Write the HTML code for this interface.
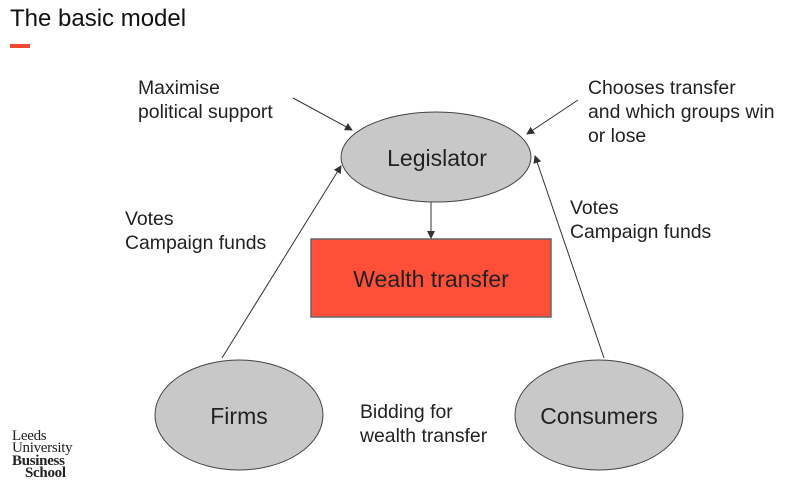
<!DOCTYPE html>
<html><head><style>
body{margin:0;width:789px;height:487px;background:#fff;overflow:hidden;position:relative;font-family:"Liberation Sans",sans-serif;}
.t{position:absolute;color:#222;font-size:19.4px;line-height:24px;white-space:nowrap}
</style></head><body>
<div class="t" style="left:10px;top:5px;font-size:24px;line-height:28px;color:#111">The basic model</div>
<div style="position:absolute;left:10px;top:44px;width:20px;height:4px;background:#f04a33"></div>
<svg width="789" height="487" style="position:absolute;left:0;top:0">
<defs><marker id="a" markerWidth="8" markerHeight="8" refX="7" refY="4" orient="auto" markerUnits="userSpaceOnUse"><path d="M0,0 L8,4 L0,8 z" fill="#333"/></marker></defs>
<ellipse cx="436" cy="157" rx="95" ry="45" fill="#c8c8c8" stroke="#444" stroke-width="1"/>
<rect x="311" y="239" width="240" height="78" fill="#ff4f38" stroke="#666" stroke-width="1.5"/>
<ellipse cx="239" cy="415" rx="84" ry="55" fill="#c8c8c8" stroke="#444" stroke-width="1"/>
<ellipse cx="599" cy="415" rx="84" ry="55" fill="#c8c8c8" stroke="#444" stroke-width="1"/>
<g stroke="#333" stroke-width="1" fill="none" marker-end="url(#a)">
<line x1="222" y1="358" x2="341" y2="166"/>
<line x1="604" y1="358" x2="535" y2="156"/>
<line x1="293" y1="98" x2="352" y2="130"/>
<line x1="578" y1="100" x2="527" y2="134"/>
<line x1="431" y1="202" x2="431" y2="238"/>
</g>
<g font-family="Liberation Sans,sans-serif" fill="#222" text-anchor="middle">
<text x="437" y="166" font-size="23">Legislator</text>
<text x="431" y="287" font-size="23">Wealth transfer</text>
<text x="239" y="424" font-size="23">Firms</text>
<text x="599" y="424" font-size="23">Consumers</text>
</g>
</svg>
<div class="t" style="left:138px;top:76px">Maximise<br>political support</div>
<div class="t" style="left:588px;top:76px">Chooses transfer<br>and which groups win<br>or lose</div>
<div class="t" style="left:125px;top:207px">Votes<br>Campaign funds</div>
<div class="t" style="left:570px;top:196px">Votes<br>Campaign funds</div>
<div class="t" style="left:360px;top:400px">Bidding for<br>wealth transfer</div>
<div style="position:absolute;left:12px;top:430px;font-family:'Liberation Serif',serif;font-size:15px;line-height:12.3px;color:#222;letter-spacing:-0.3px">Leeds<br>University<br><b>Business</b><br><b style="margin-left:13px">School</b></div>
</body></html>
